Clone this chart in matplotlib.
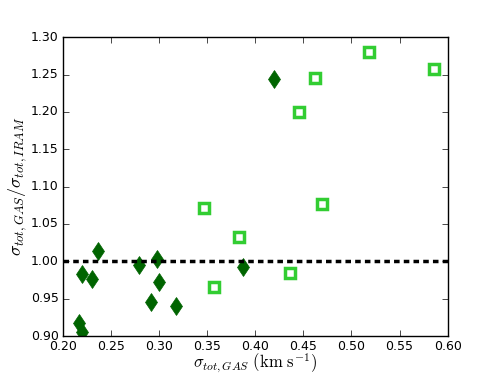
import numpy as np
import matplotlib
matplotlib.use("Agg")
import matplotlib.pyplot as plt

# dark green diamonds
sig_a = [0.4195, 0.2197, 0.2308, 0.237, 0.2796, 0.2977, 0.300, 0.2914, 0.318, 0.3877, 0.2173, 0.2204]
ratio_a = [1.2446, 0.9826, 0.976, 1.014, 0.995, 1.0027, 0.972, 0.9455, 0.9406, 0.9924, 0.917, 0.905]

# light green open squares
sig_b = [0.3471, 0.3832, 0.3569, 0.4362, 0.4697, 0.4452, 0.4625, 0.5186, 0.5858]
ratio_b = [1.0718, 1.0326, 0.966, 0.9848, 1.0768, 1.200, 1.2451, 1.2807, 1.2571]

plt.style.use('classic')
fig = plt.figure(figsize=(4.98, 3.74), dpi=100)
fig.patch.set_facecolor('white')
ax = fig.add_axes([0.126, 0.1016, 0.773, 0.7987])

ax.plot(sig_a, ratio_a, linestyle='none', marker='d', markersize=9.5,
        color='#006400', markeredgecolor='#006400')
ax.plot(sig_b, ratio_b, linestyle='none', marker='s', markersize=7,
        markerfacecolor='white', markeredgecolor='#32CD32', markeredgewidth=2.5)
ax.axhline(1.0, color='k', linestyle='--', linewidth=2.5, dashes=(4, 3))

ax.set_xlim(0.2, 0.6)
ax.set_ylim(0.9, 1.3)
ax.set_xticks(np.arange(0.2, 0.601, 0.05))
ax.set_yticks(np.arange(0.9, 1.301, 0.05))
ax.xaxis.set_major_formatter(plt.FormatStrFormatter('%.2f'))
ax.yaxis.set_major_formatter(plt.FormatStrFormatter('%.2f'))
ax.tick_params(labelsize=9, direction='in', length=4, pad=3)

ax.set_xlabel(r'$\sigma_{tot,GAS}\ (\mathrm{km\ s^{-1}})$', fontsize=12, labelpad=-1)
ax.set_ylabel(r'$\sigma_{tot,GAS}/\sigma_{tot,IRAM}$', fontsize=13, labelpad=1)

fig.savefig('out.png', dpi=100, facecolor='white')
